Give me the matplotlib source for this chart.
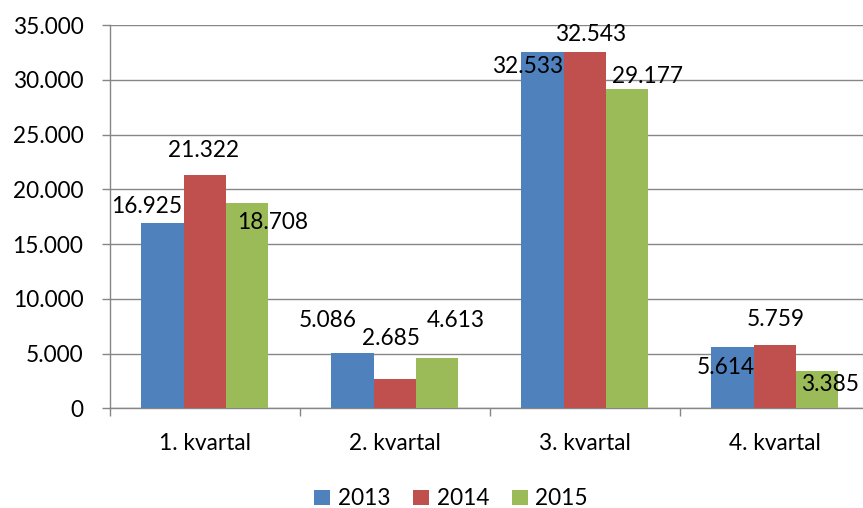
import matplotlib
matplotlib.use("Agg")
import numpy as np
from matplotlib import pyplot as plt
from matplotlib.ticker import FuncFormatter

# data
quarters = ["1. kvartal", "2. kvartal", "3. kvartal", "4. kvartal"]
years = ["2013", "2014", "2015"]
v2013 = [16925, 5086, 32533, 5614]
v2014 = [21322, 2685, 32543, 5759]
v2015 = [18708, 4613, 29177, 3385]

colors = ["#4F81BD", "#C0504D", "#9BBB59"]

# label nudges in pixels (dx, dy) from bar top centre, per series / quarter
nudge = [
    [(-16, 18), (-25, 34), (-15, -13), (-7, -19)],
    [(-1, 26), (-4, 42), (6, 19), (1, 27)],
    [(26, -18), (19, 39), (21, 14), (13, -12)],
]

plt.rcParams["font.family"] = ["Lato", "DejaVu Sans"]
FS = 16.3

fig = plt.figure(figsize=(8.63, 5.08), dpi=100)
ax = fig.add_axes([109.7 / 863, (508 - 408.3) / 508, 760 / 863, 383.3 / 508])

x = np.arange(len(quarters))
w = 1 / 4.5
series = [v2013, v2014, v2015]
for i, vals in enumerate(series):
    pos = x + (i - 1) * w
    ax.bar(pos, vals, width=w, color=colors[i], label=years[i], zorder=3)
    for j, v in enumerate(vals):
        dx, dy = nudge[i][j]
        ax.annotate(f"{v:,}".replace(",", "."), xy=(pos[j], v),
                    xytext=(dx, dy - 8), textcoords="offset pixels",
                    ha="center", va="baseline", fontsize=FS, color="black",
                    zorder=4)

ax.set_xlim(-0.5, 3.5)
ax.set_ylim(0, 35000)
ax.set_yticks(np.arange(0, 35001, 5000))
ax.yaxis.set_major_formatter(FuncFormatter(lambda v, p: f"{int(v):,}".replace(",", ".")))
ax.grid(axis="y", color="#868686", linewidth=1.0, zorder=0)

ax.set_xticks(x)
ax.set_xticklabels(quarters)
ax.set_xticks(np.arange(-0.5, 3.6, 1), minor=True)
ax.tick_params(axis="x", which="major", length=0, pad=18, labelsize=FS)
ax.tick_params(axis="x", which="minor", length=6, color="#868686", width=1.0, direction="out")
ax.tick_params(axis="y", length=6, color="#868686", width=1.0, pad=13, labelsize=FS)

for s in ["top", "right"]:
    ax.spines[s].set_visible(False)
for s in ["left", "bottom"]:
    ax.spines[s].set_color("#868686")
    ax.spines[s].set_linewidth(1.0)

fig.legend(loc="center", bbox_to_anchor=(451 / 863, 0.018), ncol=3, frameon=False,
           fontsize=FS, handlelength=0.7, handleheight=0.7, handletextpad=0.35,
           columnspacing=1.0)

fig.savefig("out.png", dpi=100)
